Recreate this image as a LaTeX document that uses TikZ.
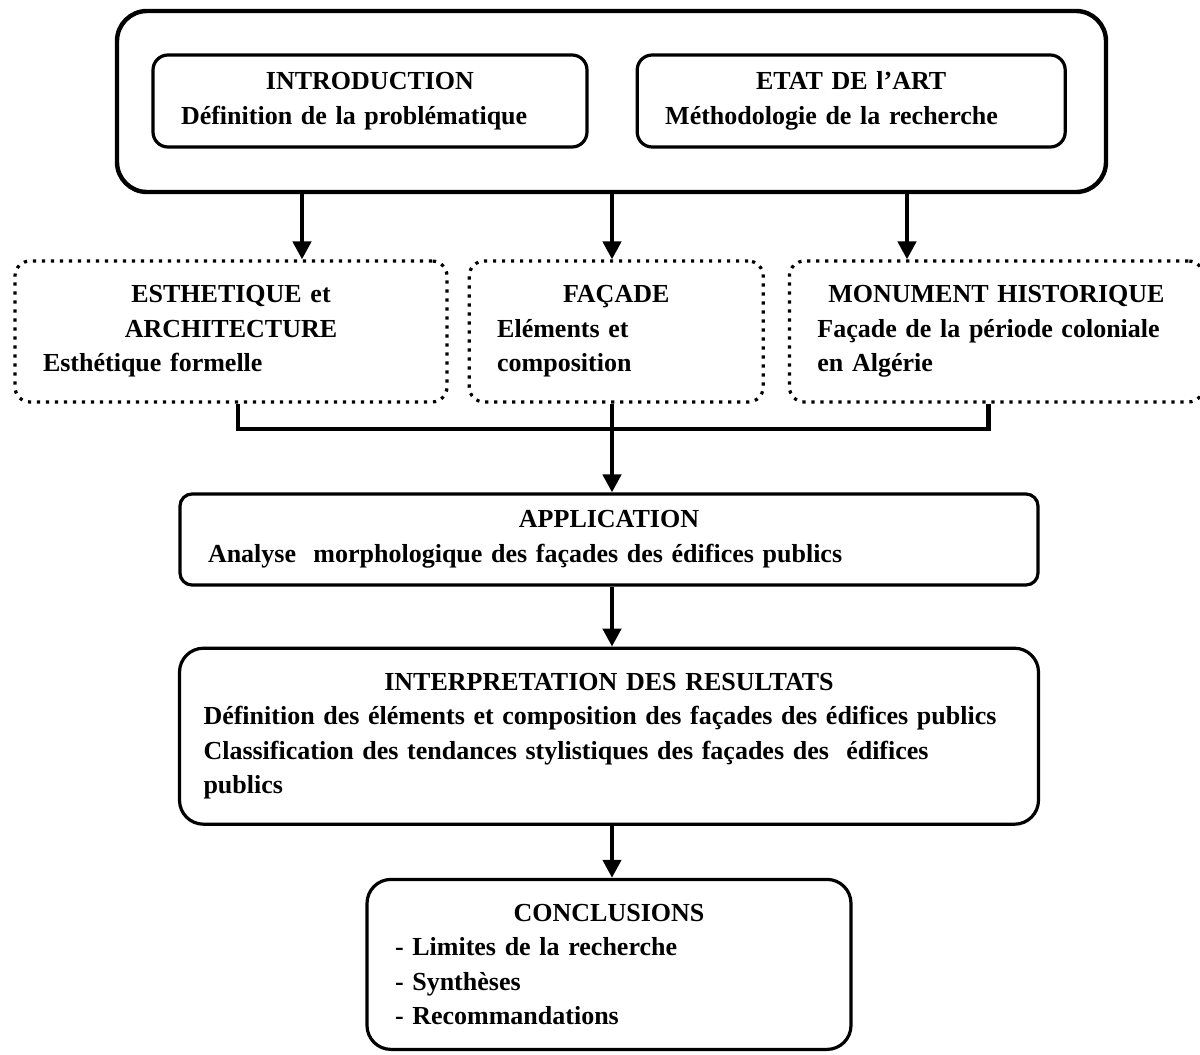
\documentclass[tikz,border=0pt]{standalone}
\usepackage{fontspec}
\setmainfont{Liberation Serif}
\usetikzlibrary{arrows.meta,positioning}

\newcommand{\ttl}[1]{\hfill#1\hfill\null}

\tikzset{
  solidbox/.style={draw, line width=1.6pt, rounded corners=7.5pt, inner xsep=14pt, inner ysep=0pt,
    align=left, font=\fontsize{13}{17.25}\selectfont\bfseries},
  dotbox/.style={solidbox, dash pattern=on 1.6pt off 2.9pt},
  arr/.style={line width=2.2pt, -{Triangle[length=9pt,width=9pt]}},
  link/.style={line width=2.2pt},
}

\begin{document}
\begin{tikzpicture}[x=0.5pt,y=-0.5pt]
  \useasboundingbox (0,0) rectangle (1200,1055);
  % top block
  \node[draw, line width=2.2pt, rounded corners=15pt, minimum width=494.5pt, minimum height=90.5pt] (top) at (611.5,101.5) {};
  \node[solidbox, text width=189pt, minimum height=46pt] (intro) at (370,101) {\ttl{INTRODUCTION}\\Définition de la problématique};
  \node[solidbox, text width=186pt, minimum height=46pt, right=23.5pt of intro] (etat) {\ttl{ETAT DE l’ART}\\Méthodologie de la recherche};
  % three themes
  \node[dotbox, text width=188pt, minimum height=70.5pt] (esth) at (231,331.5) {\ttl{ESTHETIQUE et}\\\ttl{ARCHITECTURE}\\Esthétique formelle};
  \node[dotbox, text width=119pt, minimum height=70.5pt, right=9.5pt of esth] (facade) {\ttl{FAÇADE}\\Eléments et\\composition};
  \node[dotbox, text width=179pt, minimum height=70.5pt, right=11.5pt of facade] (monu) {\ttl{MONUMENT HISTORIQUE}\\Façade de la période coloniale\\en Algérie};
  % lower chain
  \node[solidbox, text width=401pt, minimum height=45.5pt, rounded corners=6pt] (appli) at (609,539.5) {\ttl{APPLICATION}\\Analyse~ morphologique des façades des édifices publics};
  \node[solidbox, inner xsep=12pt, text width=405.5pt, minimum height=88pt, rounded corners=12pt, below=30pt of appli] (interp) {\ttl{INTERPRETATION DES RESULTATS}\\Définition des éléments et composition des façades des édifices publics\\Classification des tendances stylistiques des façades des~ édifices\\publics};
  \node[solidbox, text width=214pt, minimum height=85pt, rounded corners=12pt, below=26pt of interp] (concl) {\ttl{CONCLUSIONS}\\- Limites de la recherche\\- Synthèses\\- Recommandations};

  \coordinate (xa) at (302,0);
  \coordinate (xb) at (612,0);
  \coordinate (xc) at (907,0);
  \coordinate (join) at (612,429);
  \draw[arr] (top.south -| xa) -- (esth.north -| xa);
  \draw[arr] (top.south -| xb) -- (facade.north -| xb);
  \draw[arr] (top.south -| xc) -- (monu.north -| xc);
  \draw[link] ([xshift=3.5pt]esth.south) |- (join) -| ([xshift=-4pt]monu.south);
  \draw[arr] (facade.south -| xb) -- (appli.north -| xb);
  \draw[arr] (appli.south -| xb) -- (interp.north -| xb);
  \draw[arr] (interp.south -| xb) -- (concl.north -| xb);
\end{tikzpicture}
\end{document}
